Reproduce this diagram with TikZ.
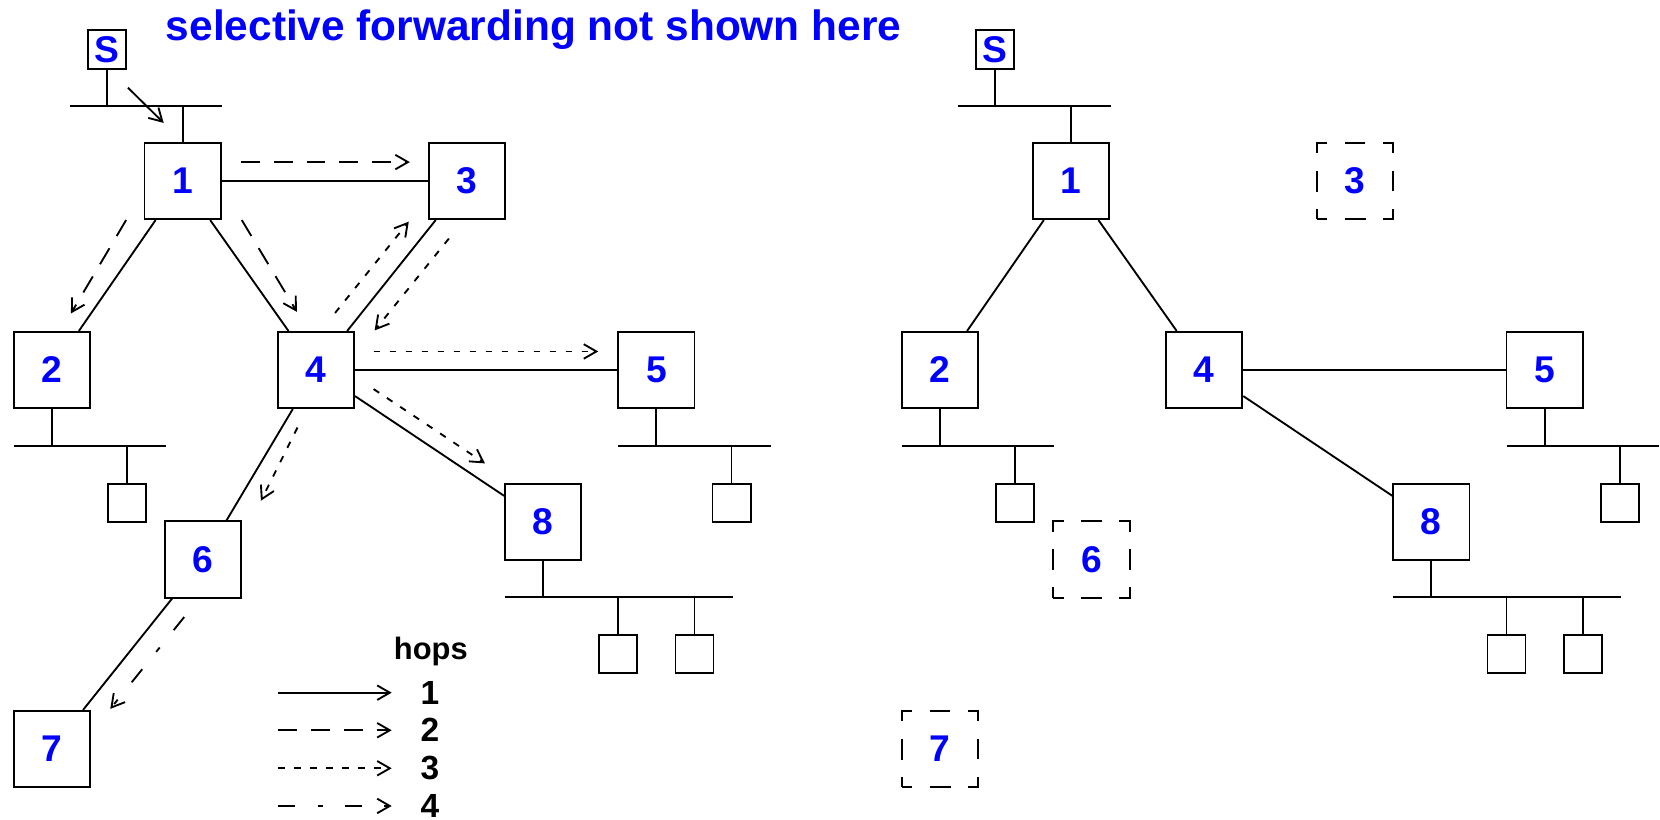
\documentclass[tikz,border=0pt]{standalone}
\usepackage{fontspec}
\setmainfont{Liberation Sans}
\usetikzlibrary{arrows.meta}

\tikzset{
  router/.style={draw, inner sep=0pt, minimum size=7.2mm, text=blue,
    font=\fontsize{10}{12}\selectfont\bfseries},
  ghost/.style={router, dash pattern=on 5.6pt off 4.65pt, dash phase=2.8pt},
  src/.style={draw, inner sep=0pt, minimum width=3.6mm, minimum height=3.7mm,
    text=blue, font=\fontsize{10}{12}\selectfont\bfseries},
  host/.style={draw, inner sep=0pt, minimum size=3.6mm},
  hop1/.style={-{Straight Barb[length=3.4pt,width=3.9pt]}},
  hop2/.style={hop1, dash pattern=on 5pt off 3.8pt},
  hop3/.style={hop1, dash pattern=on 1.8pt off 2.5pt},
  hop4/.style={hop1, dash pattern=on 4.5pt off 6pt on 1.5pt off 6pt},
}

\begin{document}
\begin{tikzpicture}[x=0.1mm, y=-0.1mm, line width=0.5pt]
\useasboundingbox (0,0) rectangle (1568,774);
% Title
\node[anchor=base, text=blue, font=\fontsize{11.4}{13}\selectfont\bfseries] (title) at (504,38)
  {selective forwarding not shown here};
% Both networks: full one on the left, pruned one on the right
\foreach \s/\dx/\gs in {l/0/router, r/839/ghost} {
  \begin{scope}[xshift=\dx*0.1mm]
    % Source and its LAN
    \node[src] (src\s) at (101,46.5) {S};
    \coordinate (busS\s) at (66,100);
    \draw (busS\s) -- ++(144,0);
    % Routers
    \node[router] (\s1) at (172.5,171) {1};
    \node[\gs] (\s3) at (441,171) {3};
    \node[router] (\s2) at (49,349.5) {2};
    \node[router] (\s4) at (298.5,349.5) {4};
    \node[router] (\s5) at (620,349.5) {5};
    \node[\gs] (\s6) at (192,528.5) {6};
    \node[\gs] (\s7) at (49,707.5) {7};
    \node[router] (\s8) at (513,493) {8};
    \draw (src\s) -- (src\s |- busS\s);
    \draw (\s1) -- (\s1 |- busS\s);
    % LANs with hosts
    \coordinate (bus2\s) at (13,421);
    \coordinate (bus5\s) at (584,421);
    \coordinate (bus8\s) at (477,564);
    \draw (bus2\s) -- ++(144,0);
    \draw (bus5\s) -- ++(144,0);
    \draw (bus8\s) -- ++(215,0);
    \node[host] (host2\s) at (120,475) {};
    \node[host] (host5\s) at (691,475) {};
    \node[host] (host8a\s) at (584,618) {};
    \node[host] (host8b\s) at (656,618) {};
    \draw (\s2) -- (\s2 |- bus2\s);
    \draw (\s5) -- (\s5 |- bus5\s);
    \draw (\s8) -- (\s8 |- bus8\s);
    \draw (host2\s) -- (host2\s |- bus2\s);
    \draw (host5\s) -- (host5\s |- bus5\s);
    \draw (host8a\s) -- (host8a\s |- bus8\s);
    \draw (host8b\s) -- (host8b\s |- bus8\s);
    % Links kept in both
    \draw (\s1) -- (\s2);
    \draw (\s1) -- (\s4);
    \draw (\s4) -- (\s5);
    \draw (\s4) -- (\s8);
  \end{scope}
}
% Links only in the full network
\draw (l1) -- (l3);
\draw (l3) -- (l4);
\draw (l4) -- (l6);
\draw (l6) -- (l7);
% Flooding, one style per hop count
\draw[hop1] ([shift={(1,17)}]srcl.south east) -- ([shift={(19,-18)}]l1.north west);
\draw[hop2] ([shift={(18.5,19)}]l1.north east) -- ([shift={(-17,19)}]l3.north west);
\draw[hop2] ([shift={(-16.5,0)}]l1.south west) -- ([shift={(18,-16.5)}]l2.north);
\draw[hop2] ([shift={(19,0)}]l1.south east) -- ([shift={(-18,-18)}]l4.north);
\draw[hop3] ([shift={(18,-17)}]l4.north) -- ([shift={(-18,1.5)}]l3.south west);
\draw[hop3] ([shift={(-17,17.5)}]l3.south) -- ([shift={(18.5,-0.5)}]l4.north east);
\draw[hop3] ([shift={(17.5,-17.5)}]l4.east) -- ([shift={(-18,-17.5)}]l5.west);
\draw[hop3] ([shift={(17.5,18)}]l4.east) -- ([shift={(-18,-18.4)}]l8.north west);
\draw[hop3] ([shift={(-17.5,17.5)}]l4.south) -- ([shift={(17.6,-18.6)}]l6.north east);
\draw[hop4] ([shift={(-18,17.5)}]l6.south) -- ([shift={(18.3,-1)}]l7.north east);
% Legend
\node[anchor=base, font=\fontsize{8.3}{10}\selectfont\bfseries] (hops) at (407,623) {hops};
\foreach \k/\y in {1/654.3, 2/689.8, 3/725.7, 4/761.3} {
  \node[font=\fontsize{9}{10}\selectfont\bfseries] (key\k) at (406,\y) {\k};
  \draw[hop\k] ([shift={(-143,0)}]key\k.center) -- ([shift={(-36,0)}]key\k.center);
}
\end{tikzpicture}
\end{document}
